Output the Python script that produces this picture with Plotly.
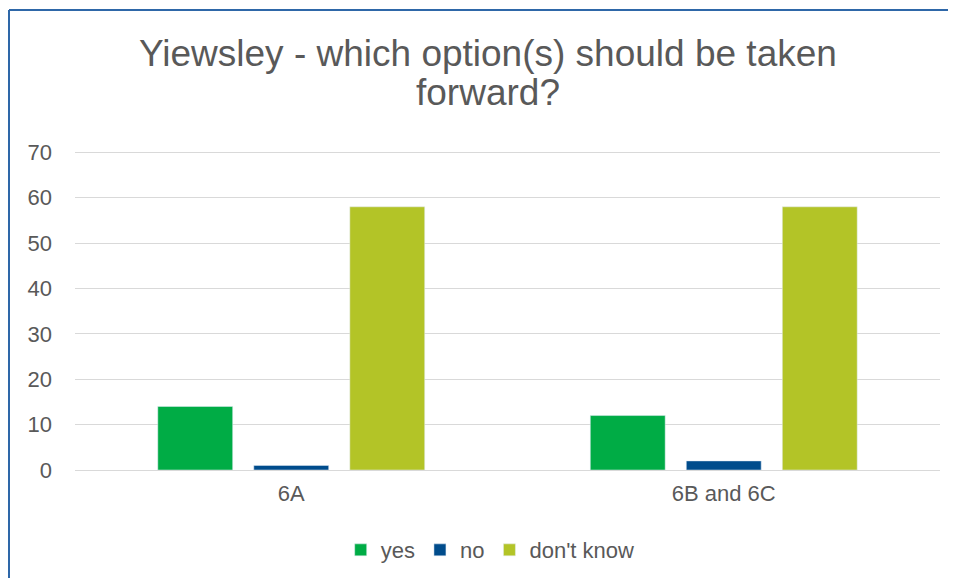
import plotly.graph_objects as go

categories = ["6A", "6B and 6C"]
yes = [14, 12]
no = [1, 2]
dont_know = [58, 58]
title_lines = ["Yiewsley - which option(s) should be taken", "forward?"]

fig = go.Figure()
fig.add_trace(go.Bar(x=categories, y=yes, name="yes", marker_color="#00AC45"))
fig.add_trace(go.Bar(x=categories, y=no, name="no", marker_color="#004C8C"))
fig.add_trace(go.Bar(x=categories, y=dont_know, name="don't know", marker_color="#B3C427"))

# the page body has an 8px margin, so the figure is shifted by that much
fig.update_layout(
    width=948, height=570,
    margin=dict(l=67, r=16, t=143, b=108, autoexpand=False),
    paper_bgcolor="white", plot_bgcolor="white",
    font=dict(family="Liberation Sans, Arial", size=22, color="#595959"),
    barmode="group", bargap=0.334, bargroupgap=0.22,
    showlegend=True,
    legend=dict(orientation="h", x=0.48, xanchor="center", y=-0.251, yanchor="middle",
                font=dict(size=22), itemwidth=30, traceorder="normal"),
    yaxis=dict(range=[0, 70.3], tickvals=[0, 10, 20, 30, 40, 50, 60, 70],
               showgrid=True, gridcolor="#D9D9D9", gridwidth=1,
               zeroline=False, showline=False, ticks="", ticklabelstandoff=22),
    xaxis=dict(showline=True, linecolor="#D9D9D9", ticks="", ticklabelstandoff=4),
    shapes=[
        dict(type="line", xref="paper", yref="paper", x0=-0.0763, x1=1.1, y0=1.442, y1=1.442,
             line=dict(color="#2E67A8", width=2)),
        dict(type="line", xref="paper", yref="paper", x0=-0.0763, x1=-0.0763, y0=-0.4, y1=1.442,
             line=dict(color="#2E67A8", width=2)),
    ],
)

for txt, ypos in zip(title_lines, [1.307, 1.182]):
    fig.add_annotation(text=txt, xref="paper", yref="paper", x=0.478, y=ypos,
                       xanchor="center", yanchor="middle", showarrow=False,
                       font=dict(size=37, color="#595959"))

fig.write_html("out.html")
